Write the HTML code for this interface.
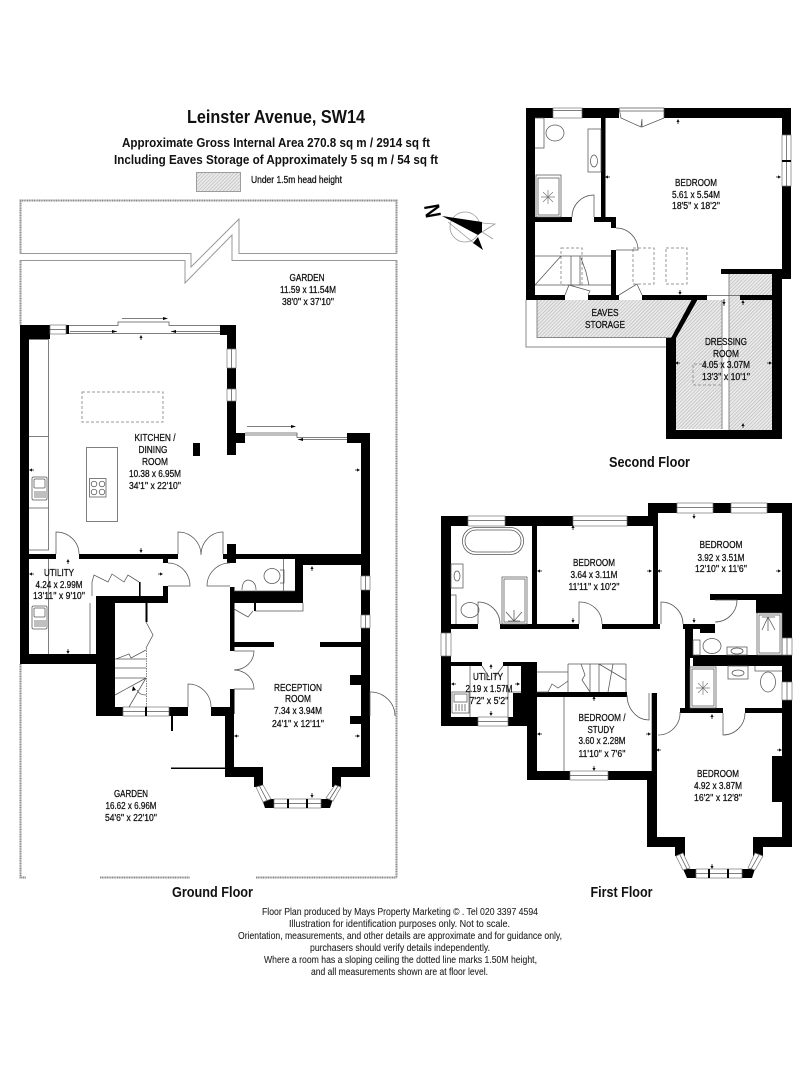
<!DOCTYPE html>
<html><head><meta charset="utf-8"><title>Leinster Avenue, SW14</title>
<style>
html,body{margin:0;padding:0;background:#fff}
svg{display:block}
text{font-family:"Liberation Sans",sans-serif;fill:#111;text-anchor:middle}
.l{font-size:10px;stroke:#111;stroke-width:.28}
.f{font-size:10px;fill:#222;stroke:#222;stroke-width:.08}
.h{font-weight:bold}
.t{fill:none;stroke:#555;stroke-width:.75}
.w{fill:#fff;stroke:#777;stroke-width:.7}
.g{fill:none;stroke:#8a8a8a;stroke-width:2;stroke-dasharray:1.2 .5}
.n{fill:none;stroke:#999;stroke-width:1}
.d{fill:none;stroke:#999;stroke-width:1;stroke-dasharray:3 2}
</style></head><body>
<svg width="810" height="1080" viewBox="0 0 810 1080" xmlns="http://www.w3.org/2000/svg">
<defs>
<pattern id="hat" width="2.5" height="2.5" patternUnits="userSpaceOnUse" patternTransform="rotate(-45)"><rect width="2.5" height="2.5" fill="#e9e9e9"/><line x1="0" y1="0" x2="2.5" y2="0" stroke="#b0b0b0" stroke-width="1"/></pattern>
<path id="u" d="M0 -3L1.6 0H-1.6ZM-.4 0H.4V2H-.4Z" fill="#111"/>
<path id="dn" d="M0 3L1.6 0H-1.6ZM-.4 0H.4V-2H-.4Z" fill="#111"/>
<path id="lf" d="M-3 0L0 -1.6V1.6ZM0 -.4V.4H2V-.4Z" fill="#111"/>
<path id="rt" d="M3 0L0 -1.6V1.6ZM0 -.4V.4H-2V-.4Z" fill="#111"/>
<g id="rays" class="t"><path d="M-7 0H7M0 -7V7M-5 -5L5 5M-5 5L5 -5" stroke="#777" stroke-width=".7" fill="none"/></g>
<g id="sink"><rect width="15" height="23" x="0" y="0" rx="1.5" class="t"/><rect x="2" y="2" width="11" height="9" rx="1" class="t"/><path d="M3 14V21M5 14V21M7 14V21M9 14V21M11 14V21M13 14V21" class="t"/></g>
</defs>

<!-- header -->
<text class="h" x="276" y="123" font-size="18.500" textLength="178" lengthAdjust="spacingAndGlyphs">Leinster Avenue, SW14</text>
<text class="h" x="276" y="147" font-size="13" textLength="308" lengthAdjust="spacingAndGlyphs">Approximate Gross Internal Area 270.8 sq m  /  2914 sq ft</text>
<text class="h" x="276" y="164" font-size="13" textLength="324" lengthAdjust="spacingAndGlyphs">Including Eaves Storage of Approximately 5 sq m  /  54 sq ft</text>
<rect x="196.5" y="172.5" width="44" height="19" fill="url(#hat)" stroke="#888" stroke-width=".8"/>
<text class="l" x="296.5" y="183" textLength="91" lengthAdjust="spacingAndGlyphs">Under 1.5m head height</text>

<!-- compass -->
<circle cx="465" cy="227" r="15" fill="none" stroke="#999" stroke-width=".8"/>
<path d="M448 222L475 244M482 223L495 224L482 232L493 239" fill="none" stroke="#999" stroke-width=".8"/>
<path d="M442 216L482 222V232L478 235Z" fill="#000"/>
<path d="M473 243L478 237L483 250Z" fill="#000"/>
<text class="h" x="0" y="8" font-size="22" style="fill:#000" transform="translate(432,211) rotate(-100) scale(.85,1)">N</text>

<!-- GROUND FLOOR: garden -->
<path class="g" d="M20.5 253.5V200.5H396.5V253.5"/>
<path class="n" d="M20 253.5H191V267L239 219V253.5H397M20 260.5H185V283L232 235V260.5H397"/>
<path class="g" d="M20.5 260.5V325M396.5 260.5V877.5M20.5 664V877.5H26M100 877.5H190M256 877.5H396.5"/>

<text class="l" x="307" y="281" textLength="35" lengthAdjust="spacingAndGlyphs">GARDEN</text>
<text class="l" x="308" y="293" textLength="56" lengthAdjust="spacingAndGlyphs">11.59 x 11.54M</text>
<text class="l" x="308" y="305" textLength="52" lengthAdjust="spacingAndGlyphs">38'0'' x 37'10''</text>

<!-- ground walls -->
<g fill="#000">
<rect x="20" y="325" width="30" height="14"/><rect x="20" y="325" width="9" height="339"/>
<rect x="66" y="325" width="3" height="9"/>
<rect x="220" y="325" width="16" height="10"/><rect x="227" y="325" width="9" height="24"/>
<rect x="227" y="368" width="9" height="21"/><rect x="227" y="401" width="9" height="54"/>
<rect x="236" y="433" width="9" height="10"/><rect x="347" y="433" width="23" height="10"/>
<rect x="361" y="433" width="9" height="143"/><rect x="361" y="590" width="9" height="25"/><rect x="361" y="628" width="9" height="149"/>
<rect x="193" y="443" width="7" height="13"/>
<rect x="29" y="554" width="27" height="5"/><rect x="79" y="554" width="99" height="5"/>
<rect x="227" y="544" width="9" height="19"/><rect x="236" y="554" width="125" height="5"/><rect x="295" y="559" width="66" height="6"/>
<rect x="163" y="559" width="5" height="4"/><rect x="223" y="554" width="4" height="5"/>
<rect x="20" y="654" width="76" height="10"/><rect x="96" y="597" width="19" height="119"/>
<rect x="96" y="596" width="72" height="7"/><rect x="163" y="586" width="5" height="17"/>
<rect x="96" y="707" width="27" height="9"/><rect x="169" y="707" width="19" height="9"/><rect x="211" y="707" width="23" height="9"/>
<rect x="171" y="716" width="2" height="15"/><rect x="171" y="767.5" width="55" height="1.5"/>
<rect x="230" y="587" width="4.5" height="64"/><rect x="230" y="689" width="4.5" height="25"/><rect x="225" y="716" width="9" height="61"/>
<rect x="225" y="767" width="38" height="10"/><rect x="254" y="777" width="9" height="10"/>
<rect x="332" y="767" width="38" height="10"/><rect x="332" y="777" width="9" height="10"/>
<path d="M262 799H274V808H265ZM321 799H333L330 808H321Z"/>
<rect x="234" y="642" width="40" height="5"/><rect x="320" y="642" width="41" height="5"/>
<rect x="350" y="675" width="11" height="10"/><rect x="350" y="716" width="11" height="8"/>
<rect x="230" y="591" width="73" height="12"/><rect x="295" y="565" width="8" height="38"/>
<rect x="139" y="582" width="1.6" height="14"/><rect x="145.5" y="603" width="2" height="19"/>
<rect x="254" y="603" width="2" height="8"/>
</g>
<!-- ground windows -->
<rect class="w" x="50" y="325" width="16" height="9"/>
<path class="t" d="M50 329.5H66"/>
<g class="w">
<rect x="227" y="349" width="9" height="19"/><rect x="227" y="389" width="9" height="12"/>
<rect x="361" y="576" width="9" height="14"/><rect x="361" y="615" width="9" height="13"/>
<rect x="123" y="707" width="46" height="9"/>
<rect x="274" y="799" width="47" height="9"/>
</g>
<path class="t" d="M231.500 349V368M231.500 389V401M365.500 576V590M365.500 615V628M123 711.500H169M274 803.500H321"/>
<rect x="145" y="707" width="2" height="9" fill="#000"/><rect x="287" y="799" width="2" height="9" fill="#000"/><rect x="306" y="799" width="2" height="9" fill="#000"/>
<path class="w" d="M256 787L263 785L271 799L263 802ZM335 785L341 787L333 801L326 798Z"/>
<path class="t" d="M259.500 786L267 800.500M338 786L329.500 799.500"/>
<!-- ground sliding doors -->
<path class="t" d="M69 325.500H118V322H169V325.500H220M69 333.500H220M122 318.500H166M70 331.500H117M171 331.500H220"/>
<path d="M168 318.500L163 317V320ZM117 331.500L112 330V333ZM171 331.500L176 330V333Z" fill="#000"/>
<path class="t" d="M245 433H297V437.500H347M245 435H297M247 426.500H295M298 439.500H347"/>
<path d="M296 426.500L291 425V428ZM298 439.500L303 438V441Z" fill="#000"/>
<!-- kitchen fittings -->
<path class="t" d="M29 339.500H48.500V550H29M29 436.500H48.500M29 508H48.500"/>
<rect class="t" x="86.500" y="447.500" width="31" height="74"/>
<rect class="t" x="89.500" y="478.500" width="16.500" height="18.500"/>
<circle class="t" cx="94" cy="484" r="2.800"/><circle class="t" cx="102" cy="484" r="2.800"/><circle class="t" cx="94" cy="492" r="2.800"/><circle class="t" cx="102" cy="492" r="2.800"/>
<rect class="d" x="82" y="392" width="81" height="30"/>
<use href="#sink" x="32" y="477"/>
<use href="#sink" x="32" y="606"/>
<!-- ground doors -->
<g class="t">
<path d="M56 554V532A23 22 0 0 1 79 554"/>
<path d="M178 554V532A23 23 0 0 1 201 555M223 554V532A22 23 0 0 0 201 555"/>
<path d="M168 586H190A22 23 0 0 0 168 563"/>
<path d="M230 586H207A23 23 0 0 1 230 563"/>
<path d="M234 651H254A20 19 0 0 1 234 670M234 689H254A20 19 0 0 0 234 670"/>
<path d="M188 707V684A23 23 0 0 1 211 707"/>
<path d="M370 716V692H372A25 24 0 0 1 395 716"/>
<path d="M48.500 559V654M90 603V654"/>
<path d="M92 596V582L94 575L108 582L112 574L124 582L128 575L139 582"/>
<!-- stairs -->
<path d="M115 659H146M115 668H146M115 678H146M146 678L115 695M146 678L129 707M146 695Q139 695 137 690M116 659L129 654L131 658L146 650M146 622L153 635L146 648"/>
<path d="M146.500 648V707" stroke-dasharray="1.500 1"/>
<!-- wc -->
<ellipse cx="272" cy="576" rx="8" ry="7.500"/><path d="M280 570H284V583H280M283.500 559V591"/>
<path d="M242 590Q242 581 248 580Q256 581 256 590"/><path d="M234 591H295"/>
<path d="M234 609L248 617L253 611M255 611H303V603"/>
</g>
<path d="M133 686L136 690L132 691Z" fill="#000"/>

<!-- ground labels -->
<text class="l" x="155" y="441" textLength="41" lengthAdjust="spacingAndGlyphs">KITCHEN /</text>
<text class="l" x="153" y="453" textLength="29" lengthAdjust="spacingAndGlyphs">DINING</text>
<text class="l" x="155" y="465" textLength="26" lengthAdjust="spacingAndGlyphs">ROOM</text>
<text class="l" x="155" y="477" textLength="52" lengthAdjust="spacingAndGlyphs">10.38 x 6.95M</text>
<text class="l" x="155" y="489" textLength="52" lengthAdjust="spacingAndGlyphs">34'1'' x 22'10''</text>
<text class="l" x="59" y="576" textLength="30" lengthAdjust="spacingAndGlyphs">UTILITY</text>
<text class="l" x="59" y="588" textLength="47" lengthAdjust="spacingAndGlyphs">4.24 x 2.99M</text>
<text class="l" x="59" y="599" textLength="52" lengthAdjust="spacingAndGlyphs">13'11'' x 9'10''</text>
<text class="l" x="298" y="691" textLength="48" lengthAdjust="spacingAndGlyphs">RECEPTION</text>
<text class="l" x="298" y="702" textLength="26" lengthAdjust="spacingAndGlyphs">ROOM</text>
<text class="l" x="298" y="714" textLength="48" lengthAdjust="spacingAndGlyphs">7.34 x 3.94M</text>
<text class="l" x="298" y="727" textLength="52" lengthAdjust="spacingAndGlyphs">24'1'' x 12'11''</text>
<text class="l" x="131" y="797" textLength="34" lengthAdjust="spacingAndGlyphs">GARDEN</text>
<text class="l" x="131" y="809" textLength="51" lengthAdjust="spacingAndGlyphs">16.62 x 6.96M</text>
<text class="l" x="131" y="821" textLength="52" lengthAdjust="spacingAndGlyphs">54'6'' x 22'10''</text>
<text class="h" x="212.500" y="897" font-size="15" textLength="81" lengthAdjust="spacingAndGlyphs">Ground Floor</text>

<!-- ground arrows -->
<use href="#u" x="141" y="338"/><use href="#lf" x="32" y="470"/><use href="#rt" x="357" y="470"/><use href="#dn" x="141" y="550"/>
<use href="#u" x="68" y="562"/><use href="#lf" x="32" y="574"/><use href="#rt" x="160" y="574"/><use href="#dn" x="68" y="651"/>
<use href="#u" x="312" y="569"/><use href="#dn" x="312" y="795"/><use href="#lf" x="237" y="736"/><use href="#rt" x="357" y="736"/>

<!-- SECOND FLOOR -->
<path d="M537 300H692L671 337H537Z" fill="url(#hat)"/>
<path d="M698 300H722V429H676V338Z" fill="url(#hat)"/>
<rect x="729" y="274" width="43" height="156" fill="url(#hat)"/>
<path class="n" d="M526 300V347H666M537 300V337.500H672M722 300V429M729 274V430" stroke-width=".7" style="stroke:#888"/>
<rect class="d" x="561" y="248" width="21" height="37"/><rect class="d" x="633" y="248" width="21" height="36"/><rect class="d" x="666" y="248" width="21" height="36"/>
<path class="d" d="M722 364H693V385H722"/>
<g fill="#000">
<rect x="526" y="108" width="27" height="10"/><rect x="582" y="108" width="37" height="10"/><rect x="664" y="108" width="127" height="10"/>
<rect x="782" y="108" width="9" height="27"/><rect x="782" y="186" width="9" height="93"/><rect x="772" y="270" width="19" height="9"/>
<rect x="772" y="274" width="10" height="165"/><rect x="721" y="269" width="61" height="5"/>
<rect x="526" y="108" width="9" height="192"/><rect x="601" y="118" width="4.500" height="99"/>
<rect x="535" y="217" width="37" height="5"/><rect x="594" y="217" width="22" height="5"/><rect x="611" y="217" width="5" height="11"/><rect x="611" y="250" width="5" height="45"/>
<rect x="526" y="295" width="39" height="5"/><rect x="588" y="295" width="31" height="5"/><rect x="642" y="295" width="65" height="5"/><rect x="740" y="295" width="32" height="5"/>
<path d="M692 299H698L676 338H671Z"/>
<rect x="666" y="338" width="10" height="101"/><rect x="666" y="430" width="116" height="9"/>
</g>
<g class="w"><rect x="553" y="108" width="29" height="10"/></g>
<path class="w" d="M782 135H791V186H782Z"/>
<rect x="782" y="160" width="9" height="2" fill="#000"/>
<path class="t" d="M553 110.500H582M786.500 135V160M786.500 162V186"/>
<g class="t">
<path d="M619 108H664V118L642 127L642 119L641 127L621 118L619 108M619 111H664"/>
<ellipse cx="555" cy="133" rx="9" ry="8"/><path d="M535 118H544V148H535"/>
<rect x="588" y="129" width="13" height="43"/><ellipse cx="594" cy="161" rx="3.500" ry="6"/>
<rect x="536" y="175" width="25" height="42"/><rect x="538" y="178" width="21" height="37"/>
<path d="M572 217A22 22 0 0 1 594 195V217"/>
<path d="M616 228A22 22 0 0 1 638 250H616"/>
<path d="M565 295L569 285L590 291L588 295M619 295L637 284L642 295"/>
<path d="M535 256H611M535 285H611M535 285L561 256M571 256V285M580 256V285M581 258L586 272L589 285"/>
<path d="M707 295.500H740"/>
</g>
<use href="#rays" x="548" y="197"/>
<path d="M724 299V306" stroke="#111" stroke-width=".8"/>
<use href="#lf" x="608" y="177"/><use href="#rt" x="778" y="177"/><use href="#u" x="678" y="122"/><use href="#dn" x="680" y="292"/><use href="#dn" x="724" y="302"/>
<use href="#u" x="743" y="303"/><use href="#lf" x="678" y="363"/><use href="#rt" x="769" y="363"/><use href="#u" x="743" y="426"/>
<text class="l" x="696" y="186" textLength="42" lengthAdjust="spacingAndGlyphs">BEDROOM</text>
<text class="l" x="696" y="198" textLength="48" lengthAdjust="spacingAndGlyphs">5.61 x 5.54M</text>
<text class="l" x="696" y="209" textLength="48" lengthAdjust="spacingAndGlyphs">18'5'' x 18'2''</text>
<text class="l" x="605" y="316" textLength="27" lengthAdjust="spacingAndGlyphs">EAVES</text>
<text class="l" x="605" y="328" textLength="40" lengthAdjust="spacingAndGlyphs">STORAGE</text>
<text class="l" x="726" y="345" textLength="42" lengthAdjust="spacingAndGlyphs">DRESSING</text>
<text class="l" x="726" y="357" textLength="26" lengthAdjust="spacingAndGlyphs">ROOM</text>
<text class="l" x="726" y="368" textLength="48" lengthAdjust="spacingAndGlyphs">4.05 x 3.07M</text>
<text class="l" x="726" y="380" textLength="48" lengthAdjust="spacingAndGlyphs">13'3'' x 10'1''</text>
<text class="h" x="649.500" y="467" font-size="15" textLength="81" lengthAdjust="spacingAndGlyphs">Second Floor</text>

<!-- FIRST FLOOR -->
<g fill="#000">
<rect x="441" y="516" width="27" height="10"/><rect x="505" y="516" width="68" height="10"/><rect x="627" y="516" width="31" height="10"/>
<rect x="648" y="503" width="29" height="10"/><rect x="648" y="503" width="10" height="13"/><rect x="713" y="503" width="18" height="10"/><rect x="767" y="503" width="25" height="10"/>
<rect x="782" y="503" width="10" height="135"/><rect x="782" y="655" width="10" height="27"/><rect x="782" y="700" width="10" height="147"/>
<rect x="441" y="516" width="10" height="117"/><rect x="441" y="656" width="10" height="70"/>
<rect x="441" y="717" width="37" height="9"/><rect x="508" y="717" width="29" height="9"/>
<rect x="513" y="693" width="24" height="33"/><rect x="521" y="663" width="16" height="34"/><rect x="527" y="695" width="10" height="85"/>
<rect x="527" y="771" width="43" height="9"/><rect x="608" y="771" width="49" height="9"/>
<rect x="647" y="771" width="10" height="76"/><rect x="651.700" y="693" width="5.300" height="78"/>
<rect x="451" y="624" width="27" height="5"/><rect x="500" y="624" width="79" height="5"/><rect x="602" y="624" width="58" height="5"/>
<rect x="532" y="526" width="5" height="98"/><rect x="653" y="513" width="5" height="116"/>
<rect x="451" y="662" width="31" height="4"/><rect x="503" y="662" width="34" height="4"/>
<rect x="537" y="692" width="90" height="5"/>
<rect x="710" y="594" width="72" height="6"/><rect x="756" y="594" width="26" height="19"/>
<rect x="683" y="624" width="32" height="5"/><rect x="685" y="624" width="8" height="34"/><rect x="685" y="658" width="5" height="50"/><rect x="700" y="624" width="15" height="9"/>
<rect x="693" y="655" width="89" height="11"/>
<rect x="680" y="708" width="43" height="5"/><rect x="745" y="708" width="37" height="5"/>
<rect x="772" y="756" width="10" height="46"/>
<rect x="647" y="837" width="38" height="10"/><rect x="675" y="847" width="10" height="9"/>
<rect x="753" y="837" width="39" height="10"/><rect x="753" y="847" width="10" height="9"/>
<path d="M683 869H696V878H687ZM742 869H755L752 878H742Z"/>
</g>
<g class="w">
<rect x="468" y="516" width="37" height="10"/><rect x="573" y="516" width="54" height="10"/>
<rect x="677" y="503" width="36" height="10"/><rect x="731" y="503" width="36" height="10"/>
<rect x="782" y="638" width="10" height="17"/><rect x="782" y="682" width="10" height="18"/>
<rect x="441" y="633" width="10" height="23"/>
<rect x="478" y="717" width="30" height="9"/><rect x="570" y="771" width="38" height="9"/>
<rect x="696" y="869" width="46" height="9"/>
</g>
<path class="t" d="M468 520.500H505M573 520.500H627M677 507.500H713M731 507.500H767M787 638V655M787 682V700M446 633V656M478 721.500H508M570 775.500H608M696 873.500H742"/>
<rect x="708" y="869" width="2" height="9" fill="#000"/><rect x="727" y="869" width="2" height="9" fill="#000"/>
<path class="w" d="M676 856L683 853L690 868L683 870ZM755 853L763 856L755 870L748 868Z"/>
<path class="t" d="M680 855L687 869M759 855L751 869"/>
<g class="t">
<rect x="462.500" y="527.500" width="61" height="27" rx="13"/><rect x="465" y="530" width="56" height="22" rx="11"/>
<rect x="451" y="564" width="12" height="24"/><ellipse cx="457" cy="576" rx="3" ry="5"/>
<ellipse cx="470" cy="610" rx="9" ry="7.500"/><path d="M451 595H456V624"/>
<rect x="502" y="577" width="25" height="47"/><rect x="504" y="579" width="21" height="43"/>
<path d="M508 621L520 621M514 621V610M514 621L506 612M514 621L522 612"/>
<path d="M478 624V602A22 22 0 0 1 500 624"/>
<path d="M579 624V602A22 22 0 0 1 602 624"/>
<path d="M661 624V602A22 22 0 0 1 683 624"/>
<path d="M715 600H737A22 22 0 0 1 715 622"/>
<path d="M627 695A22 25 0 0 0 649 720V693"/>
<path d="M680 712A22 22 0 0 1 658 735"/>
<path d="M723 713V735A22 22 0 0 0 745 713"/>
<rect x="757" y="613" width="25" height="42"/><rect x="759" y="615" width="21" height="38"/>
<path d="M768 617L762 630M768 617V631M768 617L775 630M762 617H775"/>
<rect x="727" y="647" width="20" height="8"/><ellipse cx="737" cy="651" rx="6" ry="3"/>
<ellipse cx="712" cy="646" rx="9" ry="7.500"/><rect x="693" y="640" width="7" height="15"/>
<rect x="690" y="667" width="26" height="41"/><rect x="692" y="669" width="22" height="37"/>
<rect x="728" y="666" width="20" height="13"/><ellipse cx="738" cy="673" rx="6" ry="3"/>
<ellipse cx="768" cy="682" rx="7.500" ry="10"/><path d="M755 666V671H782"/>
<rect x="452" y="692" width="17" height="21"/><rect x="454" y="694" width="13" height="8"/><path d="M456 704V711M459 704V711M462 704V711M465 704V711"/>
<path d="M470 666V717M508 666V717M508 692H521"/>
<path d="M482 666L489 677M503 666L495 677"/>
<path d="M537 672H568M568 664V692M590 664V692M599 664V692M626 664V692M568 664H626M599 664L626 680M613 664L608 692M537 692L548 692L552 684L558 688L568 681M581 664L585 675L582 680L590 692"/>
<path d="M564 697V771"/>
</g>
<use href="#rays" x="703" y="688"/>
<use href="#u" x="573" y="528"/><use href="#lf" x="540" y="571"/><use href="#rt" x="649" y="571"/><use href="#lf" x="660" y="571"/><use href="#rt" x="778" y="571"/><use href="#dn" x="694" y="516"/>
<use href="#dn" x="573" y="620"/><use href="#dn" x="694" y="620"/><use href="#u" x="491" y="667"/><use href="#lf" x="454" y="684"/><use href="#rt" x="517" y="684"/><use href="#dn" x="491" y="713"/>
<use href="#u" x="594" y="699"/><use href="#lf" x="540" y="734"/><use href="#rt" x="648" y="734"/><use href="#dn" x="594" y="768"/><use href="#lf" x="659" y="750"/><use href="#rt" x="779" y="750"/><use href="#u" x="712" y="717"/><use href="#dn" x="712" y="866"/>
<text class="l" x="594" y="566" textLength="42" lengthAdjust="spacingAndGlyphs">BEDROOM</text>
<text class="l" x="594" y="578" textLength="47" lengthAdjust="spacingAndGlyphs">3.64 x 3.11M</text>
<text class="l" x="594" y="590" textLength="51" lengthAdjust="spacingAndGlyphs">11'11'' x 10'2''</text>
<text class="l" x="721" y="548" textLength="43" lengthAdjust="spacingAndGlyphs">BEDROOM</text>
<text class="l" x="721" y="561" textLength="47" lengthAdjust="spacingAndGlyphs">3.92 x 3.51M</text>
<text class="l" x="721" y="572" textLength="52" lengthAdjust="spacingAndGlyphs">12'10'' x 11'6''</text>
<text class="l" x="488" y="680" textLength="30" lengthAdjust="spacingAndGlyphs">UTILITY</text>
<text class="l" x="489" y="692" textLength="47" lengthAdjust="spacingAndGlyphs">2.19 x 1.57M</text>
<text class="l" x="489" y="704" textLength="39" lengthAdjust="spacingAndGlyphs">7'2'' x 5'2''</text>
<text class="l" x="602" y="721" textLength="47" lengthAdjust="spacingAndGlyphs">BEDROOM /</text>
<text class="l" x="601" y="733" textLength="27" lengthAdjust="spacingAndGlyphs">STUDY</text>
<text class="l" x="602" y="744" textLength="47" lengthAdjust="spacingAndGlyphs">3.60 x 2.28M</text>
<text class="l" x="602" y="757" textLength="47" lengthAdjust="spacingAndGlyphs">11'10'' x 7'6''</text>
<text class="l" x="718" y="777" textLength="42" lengthAdjust="spacingAndGlyphs">BEDROOM</text>
<text class="l" x="718" y="789" textLength="48" lengthAdjust="spacingAndGlyphs">4.92 x 3.87M</text>
<text class="l" x="718" y="801" textLength="48" lengthAdjust="spacingAndGlyphs">16'2'' x 12'8''</text>
<text class="h" x="621.500" y="897" font-size="15" textLength="62" lengthAdjust="spacingAndGlyphs">First Floor</text>

<!-- footer -->
<text class="f" x="400" y="915" textLength="276" lengthAdjust="spacingAndGlyphs">Floor Plan produced by Mays Property Marketing © . Tel 020 3397 4594</text>
<text class="f" x="399.500" y="927" textLength="221" lengthAdjust="spacingAndGlyphs">Illustration for identification purposes only. Not to scale.</text>
<text class="f" x="400" y="939" textLength="324" lengthAdjust="spacingAndGlyphs">Orientation, measurements, and other details are approximate and for guidance only,</text>
<text class="f" x="400" y="951" textLength="180" lengthAdjust="spacingAndGlyphs">purchasers should verify details independently.</text>
<text class="f" x="400.500" y="963" textLength="273" lengthAdjust="spacingAndGlyphs">Where a room has a sloping ceiling the dotted line marks 1.50M height,</text>
<text class="f" x="399.500" y="975" textLength="177" lengthAdjust="spacingAndGlyphs">and all measurements shown are at floor level.</text>
</svg>
</body></html>
